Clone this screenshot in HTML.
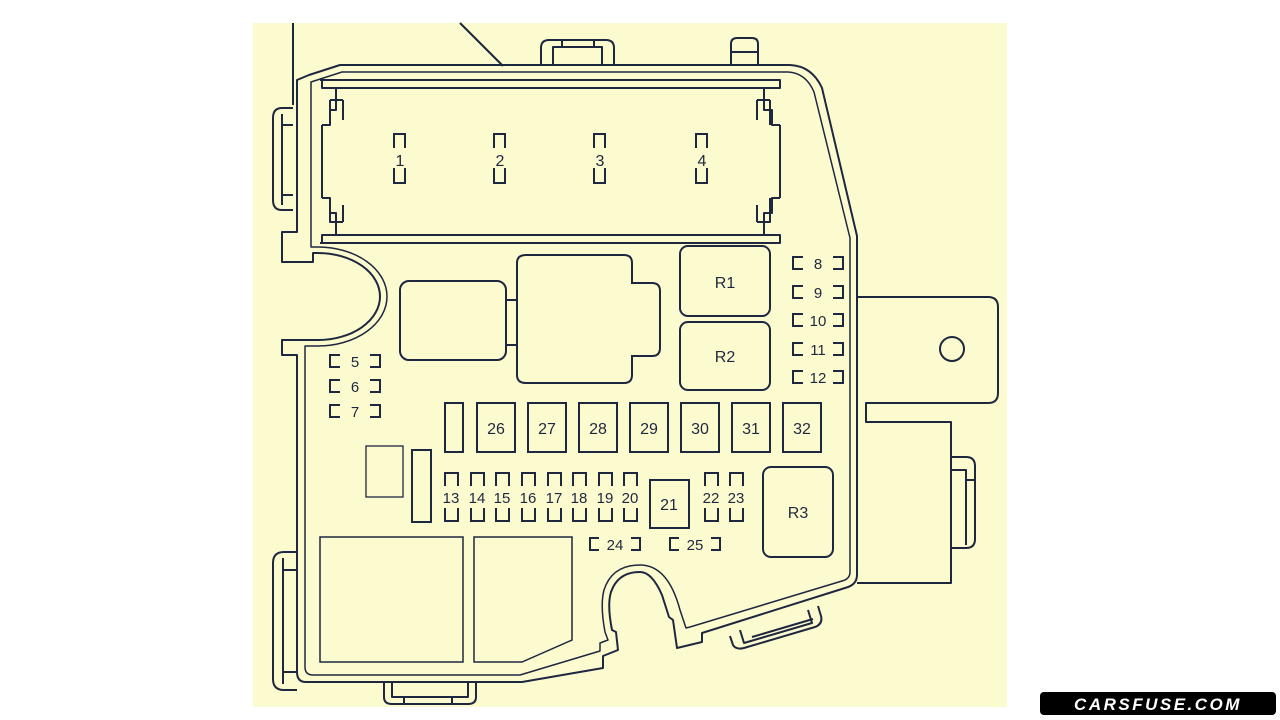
<!DOCTYPE html>
<html><head><meta charset="utf-8"><style>
html,body{margin:0;padding:0;background:#fff;}
svg{display:block;}
text{font-family:"Liberation Sans",sans-serif;fill:#1e2740;}
</style></head><body>
<svg width="1280" height="720" viewBox="0 0 1280 720">
<rect x="0" y="0" width="1280" height="720" fill="#fff"/>
<rect x="253" y="23" width="754" height="684" fill="#fcfbcf"/>
<g fill="none" stroke="#1e2740" stroke-width="2" stroke-linejoin="round">
<line x1="293" y1="23" x2="293" y2="105"/>
<line x1="460" y1="23" x2="503" y2="66"/>
<path d="M541,66 V48 Q541,40 549,40 H606 Q614,40 614,48 V66"/>
<path d="M553,66 V47 H602 V66 M562,47 V40 M594,47 V40"/>
<path d="M731,66 V44 Q731,38 737,38 H752 Q758,38 758,44 V66 M731,52 H758"/>
<path d="M309,75 L340,65 H790 Q812,66 822,88 L857,236 V575 Q857,585 845,588 L702,633 V642 L677,648 L673,620 L669,617 L662,595 Q652,572 640,572 Q618,572 611,592 Q607,605 612,630 L616,632 L618,650 L603,656 V668 L522,682 H306 Q297,682 297,672 V355 H282 V340 H318 A62,43.5 0 0 0 318,253 H313 V262 H282 V232 H297 V80 Z"/>
<path d="M311,82 L342,72 H788 Q806,73 814,92 L850,238 V572 Q850,579 842,581 L690,627 L686,628 L680,610 Q668,565 640,565 Q612,565 604,590 Q600,605 605,632 L608,640 L600,643 L600,651 L520,675 H313 Q305,675 305,667 V346 H318 A69,49.5 0 0 0 318,247 H311 Z" stroke-width="1.5"/>
<path d="M293,108 H282 Q273,108 273,118 V200 Q273,210 282,210 H293 M282,114 V205 M282,125 H293 M282,195 H293"/>
<path d="M297,552 H284 Q273,552 273,563 V679 Q273,690 284,690 H297 M283,558 V684 M283,570 H297 M283,672 H297"/>
<path d="M384,682 V697 Q384,704 392,704 H468 Q476,704 476,697 V682 M392,682 V697 H468 V682 M404,697 V704 M452,697 V704"/>
<path d="M730,636 L733,645 Q736,650 744,648 L815,627 Q823,624 821,616 L818,606 M740,630 L744,643 L812,623 L808,610 M752,637 L813,619"/>
<path d="M857,297 H988 Q998,297 998,307 V393 Q998,403 988,403 H866 V422 H951 V583 H857"/>
<circle cx="952" cy="349" r="12"/>
<path d="M951,457 H966 Q975,457 975,466 V539 Q975,548 966,548 H951 M951,470 H966 V545 M966,480 H975"/>
<path d="M320,80 H780 V88 H322 V80 M320,243 H780 V235 H322 V243"/>
<path d="M322,88 H336 V110 H330 V125 H322 M322,235 H336 V213 H330 V198 H322 M322,125 V198"/>
<path d="M343,100 V120 M330,100 H343 M330,125 V100"/>
<path d="M330,198 V222 H343 M343,222 V205"/>
<path d="M780,88 H764 V110 H772 V125 H780 M780,235 H764 V213 H772 V198 H780 M780,125 V198"/>
<path d="M757,100 V120 M770,100 H757 M770,100 V125"/>
<path d="M770,198 V222 H757 M757,222 V205"/>
</g>
<g fill="none" stroke="#1e2740" stroke-width="2">
<path d="M394,148 V134 H405 V148 M394,168 V183 H405 V168"/>
<path d="M494,148 V134 H505 V148 M494,168 V183 H505 V168"/>
<path d="M594,148 V134 H605 V148 M594,168 V183 H605 V168"/>
<path d="M696,148 V134 H707 V148 M696,168 V183 H707 V168"/>
<rect x="400" y="281" width="106" height="79" rx="9"/>
<path d="M506,300 H517 M506,345 H517"/>
<path d="M526,255 H624 Q632,255 632,263 V283 H652 Q660,283 660,291 V348 Q660,356 652,356 H632 V375 Q632,383 624,383 H526 Q517,383 517,375 V263 Q517,255 526,255 Z"/>
<rect x="680" y="246" width="90" height="70" rx="8"/>
<rect x="680" y="322" width="90" height="68" rx="8"/>
<rect x="445" y="403" width="18" height="49"/>
<rect x="477" y="403" width="38" height="49"/>
<rect x="528" y="403" width="38" height="49"/>
<rect x="579" y="403" width="38" height="49"/>
<rect x="630" y="403" width="38" height="49"/>
<rect x="681" y="403" width="38" height="49"/>
<rect x="732" y="403" width="38" height="49"/>
<rect x="783" y="403" width="38" height="49"/>
<rect x="366" y="446" width="37" height="51" stroke-width="1.3"/>
<rect x="412" y="450" width="19" height="72"/>
<rect x="650" y="480" width="39" height="48"/>
<rect x="763" y="467" width="70" height="90" rx="8"/>
<rect x="320" y="537" width="143" height="125" stroke-width="1.5"/>
<path d="M474,537 H572 V640 L522,662 H474 Z" stroke-width="1.5"/>
</g>
<g fill="#fcfbcf" stroke="#1e2740" stroke-width="2">
<rect x="445" y="473" width="13" height="48"/>
<rect x="471" y="473" width="13" height="48"/>
<rect x="496" y="473" width="13" height="48"/>
<rect x="522" y="473" width="13" height="48"/>
<rect x="548" y="473" width="13" height="48"/>
<rect x="573" y="473" width="13" height="48"/>
<rect x="599" y="473" width="13" height="48"/>
<rect x="624" y="473" width="13" height="48"/>
<rect x="705" y="473" width="13" height="48"/>
<rect x="730" y="473" width="13" height="48"/>
</g>
<g fill="#fcfbcf">
<rect x="440" y="486" width="200" height="22"/>
<rect x="700" y="486" width="48" height="22"/>
</g>
<g fill="none" stroke="#1e2740" stroke-width="2">
<path d="M803,257 H793 V269 H803 M833,257 H843 V269 H833"/>
<path d="M803,286 H793 V298 H803 M833,286 H843 V298 H833"/>
<path d="M803,314 H793 V326 H803 M833,314 H843 V326 H833"/>
<path d="M803,343 H793 V355 H803 M833,343 H843 V355 H833"/>
<path d="M803,371 H793 V383 H803 M833,371 H843 V383 H833"/>
<path d="M340,355 H330 V367 H340 M370,355 H380 V367 H370"/>
<path d="M340,380 H330 V392 H340 M370,380 H380 V392 H370"/>
<path d="M340,405 H330 V417 H340 M370,405 H380 V417 H370"/>
<path d="M599,538 H590 V550 H599 M631,538 H640 V550 H631"/>
<path d="M679,538 H670 V550 H679 M711,538 H720 V550 H711"/>
</g>
<g font-size="16" text-anchor="middle">
<text x="400" y="166">1</text><text x="500" y="166">2</text><text x="600" y="166">3</text><text x="702" y="166">4</text>
<text x="725" y="288">R1</text><text x="725" y="362">R2</text><text x="798" y="518">R3</text>
<text x="496" y="434">26</text><text x="547" y="434">27</text><text x="598" y="434">28</text><text x="649" y="434">29</text><text x="700" y="434">30</text><text x="751" y="434">31</text><text x="802" y="434">32</text>
<text x="669" y="510">21</text>
</g>
<g font-size="15" text-anchor="middle">
<text x="818" y="269">8</text><text x="818" y="298">9</text><text x="818" y="326">10</text><text x="818" y="355">11</text><text x="818" y="383">12</text>
<text x="355" y="367">5</text><text x="355" y="392">6</text><text x="355" y="417">7</text>
<text x="615" y="550">24</text><text x="695" y="550">25</text>
<text x="451" y="503">13</text><text x="477" y="503">14</text><text x="502" y="503">15</text><text x="528" y="503">16</text><text x="554" y="503">17</text><text x="579" y="503">18</text><text x="605" y="503">19</text><text x="630" y="503">20</text><text x="711" y="503">22</text><text x="736" y="503">23</text>
</g>
<rect x="1040" y="692" width="236" height="23" rx="4" fill="#000"/>
<text x="1158" y="710" text-anchor="middle" font-size="17" font-weight="bold" font-style="italic" letter-spacing="2.5" style="fill:#fff">CARSFUSE.COM</text>
</svg>
</body></html>
